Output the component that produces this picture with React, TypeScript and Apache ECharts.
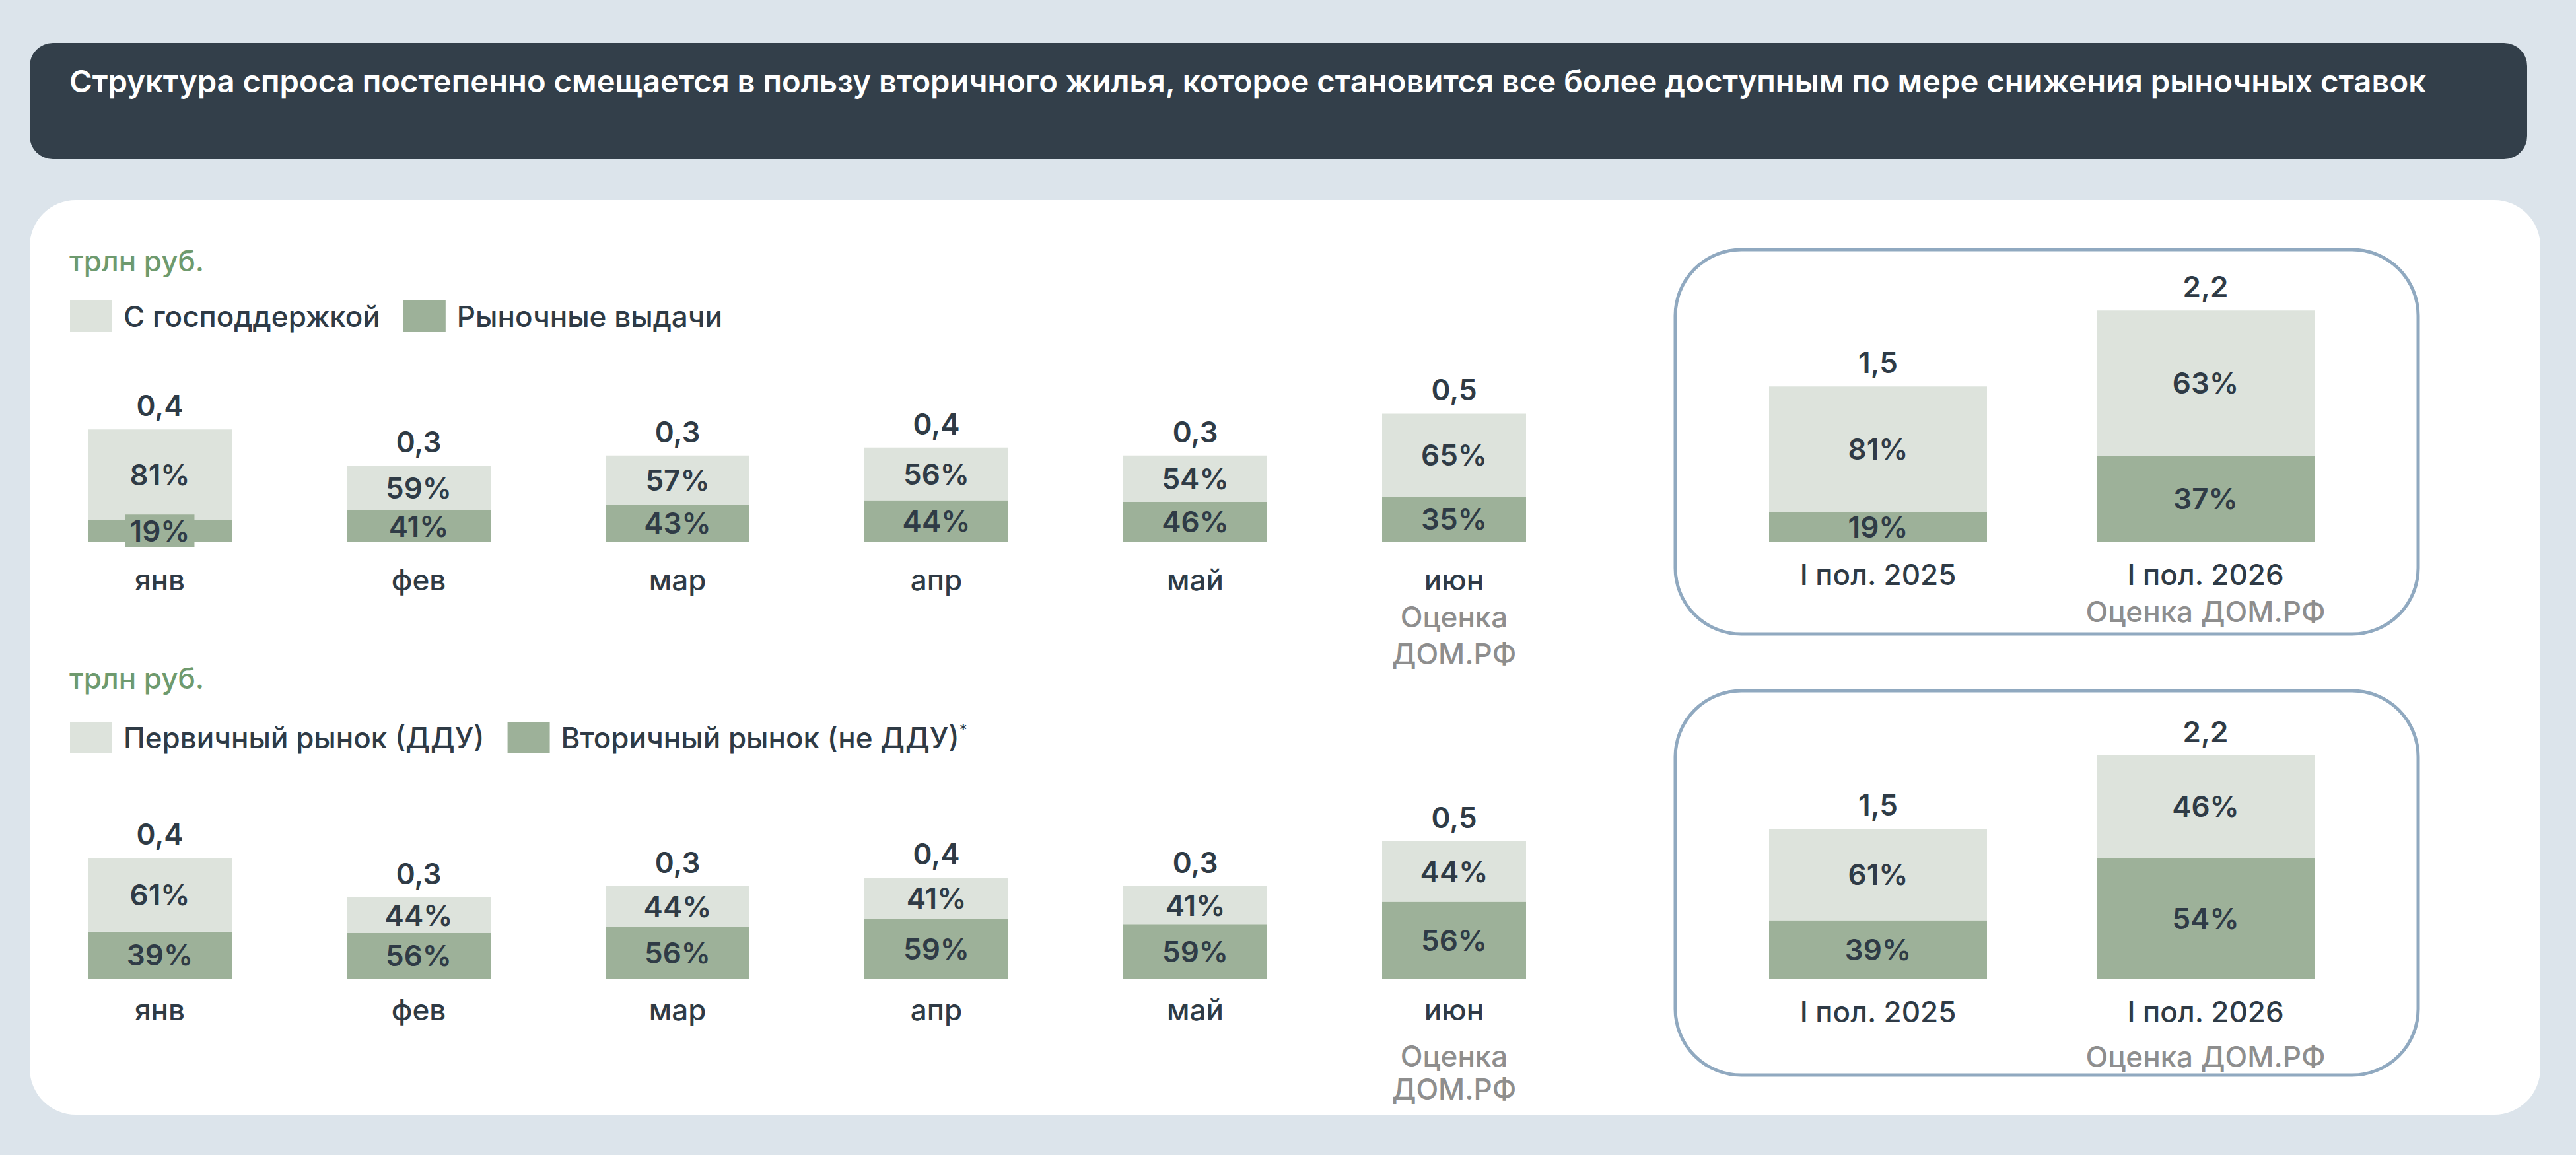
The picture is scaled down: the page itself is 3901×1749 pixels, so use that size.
import React, { useEffect, useRef } from "react";
import * as echarts from "echarts";

// Monthly mortgage issuance, trillion roubles
const months = ["янв", "фев", "мар", "апр", "май", "июн"];
const monthTotals = [0.43, 0.29, 0.33, 0.36, 0.33, 0.49];
// Split by state support (%)
const supportShare = [81, 59, 57, 56, 54, 65];
const marketShare = [19, 41, 43, 44, 46, 35];
// Split by market segment (%)
const primaryShare = [61, 44, 44, 41, 41, 44];
const secondaryShare = [39, 56, 56, 59, 59, 56];

// Half-year totals, trillion roubles
const halves = ["I пол. 2025", "I пол. 2026"];
const halfTotals = [1.49, 2.22];
const halfSupport = [81, 63];
const halfMarket = [19, 37];
const halfPrimary = [61, 46];
const halfSecondary = [39, 54];

const TITLE =
  "Структура спроса постепенно смещается в пользу вторичного жилья, которое становится все более доступным по мере снижения рыночных ставок";
const UNIT = "трлн руб.";
const ESTIMATE = "Оценка ДОМ.РФ";

const NAME_SUPPORT = "С господдержкой";
const NAME_MARKET = "Рыночные выдачи";
const NAME_PRIMARY = "Первичный рынок (ДДУ)";
const NAME_SECONDARY = "Вторичный рынок (не ДДУ)";

const FONT = "Inter, 'Noto Sans', sans-serif";
const DARK = "#2f3b46";
const GRAY = "#8e8e8e";
const GREEN_TEXT = "#6e9a6e";
const LIGHT_BAR = "#dde3dc";
const DARK_BAR = "#9db199";
const BOX_BORDER = "#90a9c0";

const fmt = (v: number) => v.toFixed(1).replace(".", ",");

export default function App() {
  const ref = useRef<HTMLDivElement>(null);

  useEffect(() => {
    if (!ref.current) return;
    const chart = echarts.init(ref.current, null, { renderer: "svg" });

    const pctLabel = (shares: number[]) => ({
      show: true,
      position: "inside",
      fontFamily: FONT,
      fontSize: 44,
      fontWeight: 600,
      color: DARK,
      formatter: (p: any) => shares[p.dataIndex] + "%",
    });

    const part = (totals: number[], shares: number[]) =>
      totals.map((t, i) => +(t * shares[i] / 100).toFixed(4));

    const stackSeries = (
      idx: number,
      totals: number[],
      lower: number[],
      upper: number[],
      lowerName: string,
      upperName: string,
      barWidth: number,
      lowerData?: any[]
    ) => [
      {
        type: "bar",
        name: lowerName,
        xAxisIndex: idx,
        yAxisIndex: idx,
        stack: "s" + idx,
        barWidth,
        itemStyle: { color: DARK_BAR },
        label: pctLabel(lower),
        data: lowerData ?? part(totals, lower),
      },
      {
        type: "bar",
        name: upperName,
        xAxisIndex: idx,
        yAxisIndex: idx,
        stack: "s" + idx,
        barWidth,
        itemStyle: { color: LIGHT_BAR },
        label: pctLabel(upper),
        data: part(totals, upper),
      },
      // zero-height cap on each stack that carries the total above the bar
      {
        type: "bar",
        name: "total" + idx,
        xAxisIndex: idx,
        yAxisIndex: idx,
        stack: "s" + idx,
        barWidth,
        silent: true,
        itemStyle: { color: "rgba(0,0,0,0)" },
        label: {
          show: true,
          position: "top",
          distance: 14,
          fontFamily: FONT,
          fontSize: 44,
          fontWeight: 600,
          color: DARK,
          formatter: (p: any) => fmt(totals[p.dataIndex]),
        },
        data: totals.map(() => 0),
      },
    ];

    // January's market share is too thin for its label, so the label gets a plate
    const janMarket = part(monthTotals, marketShare).map((v, i) =>
      i === 0
        ? {
            value: v,
            label: { backgroundColor: DARK_BAR, padding: [3, 7, 2, 7] },
          }
        : v
    );

    const grids = [
      { left: 46, width: 2352, top: 583, height: 237 },
      { left: 46, width: 2352, top: 1227, height: 255 },
      { left: 2596, width: 992, top: 426, height: 394 },
      { left: 2596, width: 992, top: 1101, height: 381 },
    ];

    const estRich = {
      est: { color: GRAY, fontFamily: FONT, fontSize: 44, fontWeight: 500, lineHeight: 56 },
      est2: { color: GRAY, fontFamily: FONT, fontSize: 44, fontWeight: 500, lineHeight: 64, verticalAlign: "bottom" },
      est3: { color: GRAY, fontFamily: FONT, fontSize: 44, fontWeight: 500, lineHeight: 62, verticalAlign: "bottom" },
    };

    const xAxis = (idx: number, data: string[], margin: number, fmtLabel: (v: string) => string) => ({
      type: "category",
      gridIndex: idx,
      data,
      axisLine: { show: false },
      axisTick: { show: false },
      axisLabel: {
        interval: 0,
        margin,
        fontFamily: FONT,
        fontSize: 44,
        fontWeight: 500,
        color: DARK,
        lineHeight: 56,
        formatter: fmtLabel,
        rich: estRich,
      },
    });

    const yAxis = (idx: number, max: number) => ({
      type: "value",
      gridIndex: idx,
      min: 0,
      max,
      show: false,
      splitLine: { show: false },
    });

    const legendBase = {
      left: 101,
      orient: "horizontal",
      icon: "rect",
      itemWidth: 64,
      itemHeight: 48,
      itemGap: 35,
      selectedMode: false,
      textStyle: {
        fontFamily: FONT,
        fontSize: 44,
        fontWeight: 500,
        color: DARK,
        padding: [0, 0, 0, 12],
        rich: {
          sup: { fontFamily: FONT, fontSize: 24, color: DARK, verticalAlign: "top", lineHeight: 48 },
        },
      },
    };

    const option: any = {
      animation: false,
      backgroundColor: "#dce4eb",
      graphic: [
        { type: "rect", z: -10, shape: { x: 45, y: 65, width: 3782, height: 176, r: 35 }, style: { fill: "#333f4a" } },
        {
          type: "text",
          z: -9,
          x: 105,
          y: 122,
          style: { text: TITLE, fill: "#ffffff", fontFamily: FONT, fontSize: 47.2, fontWeight: 600, textVerticalAlign: "middle" },
        },
        { type: "rect", z: -10, shape: { x: 45, y: 303, width: 3802, height: 1385, r: 70 }, style: { fill: "#ffffff" } },
        {
          type: "rect",
          z: -9,
          shape: { x: 2537, y: 378, width: 1125, height: 582, r: 100 },
          style: { fill: "none", stroke: BOX_BORDER, lineWidth: 5 },
        },
        {
          type: "rect",
          z: -9,
          shape: { x: 2537, y: 1046, width: 1125, height: 582, r: 100 },
          style: { fill: "none", stroke: BOX_BORDER, lineWidth: 5 },
        },
        {
          type: "text",
          z: -9,
          x: 105,
          y: 395,
          style: { text: UNIT, fill: GREEN_TEXT, fontFamily: FONT, fontSize: 44, fontWeight: 500, textVerticalAlign: "middle" },
        },
        {
          type: "text",
          z: -9,
          x: 105,
          y: 1027,
          style: { text: UNIT, fill: GREEN_TEXT, fontFamily: FONT, fontSize: 44, fontWeight: 500, textVerticalAlign: "middle" },
        },
      ],
      legend: [
        { ...legendBase, top: 450, data: [NAME_SUPPORT, NAME_MARKET] },
        {
          ...legendBase,
          top: 1088,
          data: [NAME_PRIMARY, NAME_SECONDARY],
          formatter: (n: string) => (n === NAME_SECONDARY ? n + "{sup|*}" : n),
        },
      ],
      grid: grids,
      xAxis: [
        xAxis(0, months, 30, (v) => (v === "июн" ? v + "\n{est|Оценка}\n{est|ДОМ.РФ}" : v)),
        xAxis(1, months, 19, (v) => (v === "июн" ? v + "\n{est2|Оценка}\n{est|ДОМ.РФ}" : v)),
        xAxis(2, halves, 22, (v) => (v === halves[1] ? v + "\n{est|" + ESTIMATE + "}" : v)),
        xAxis(3, halves, 22, (v) => (v === halves[1] ? v + "\n{est3|" + ESTIMATE + "}" : v)),
      ],
      yAxis: [yAxis(0, 0.6), yAxis(1, 0.6), yAxis(2, 2.5), yAxis(3, 2.5)],
      series: [
        ...stackSeries(0, monthTotals, marketShare, supportShare, NAME_MARKET, NAME_SUPPORT, 218, janMarket),
        ...stackSeries(1, monthTotals, secondaryShare, primaryShare, NAME_SECONDARY, NAME_PRIMARY, 218),
        ...stackSeries(2, halfTotals, halfMarket, halfSupport, NAME_MARKET, NAME_SUPPORT, 330),
        ...stackSeries(3, halfTotals, halfSecondary, halfPrimary, NAME_SECONDARY, NAME_PRIMARY, 330),
      ],
    };

    chart.setOption(option);
    return () => chart.dispose();
  }, []);

  return (
    <div
      ref={ref}
      style={{ position: "fixed", left: 0, top: 0, width: 3901, height: 1749 }}
    />
  );
}
